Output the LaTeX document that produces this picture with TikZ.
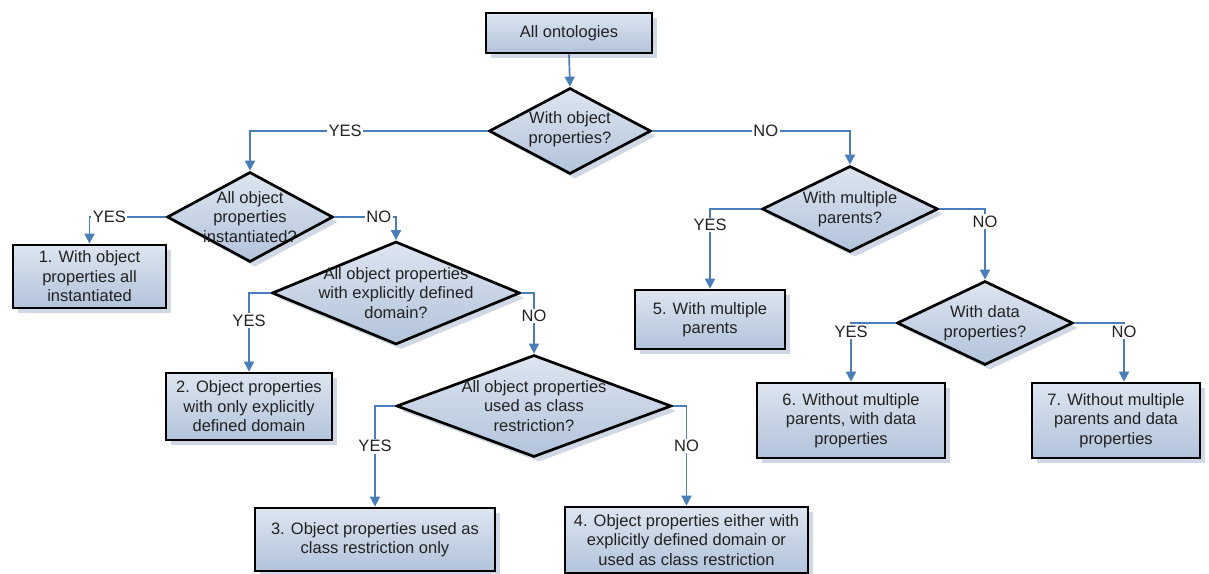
\documentclass[tikz,border=0pt]{standalone}
\usepackage{fontspec}
\setmainfont{Liberation Sans}
\usetikzlibrary{shapes.geometric,arrows.meta,shadows}
\definecolor{arrblue}{HTML}{4A7EBB}
\definecolor{ftop}{HTML}{DDE5F0}
\definecolor{fbot}{HTML}{B2C3DB}
\definecolor{shad}{HTML}{D0D8E5}
\definecolor{txtc}{HTML}{222222}
\begin{document}
\begin{tikzpicture}[x=1pt,y=-1pt,
  every node/.style={font=\fontsize{16.5}{19.5}\selectfont, text=txtc},
  shad/.style={drop shadow={shadow xshift=5pt, shadow yshift=-5pt, fill=shad, opacity=1}},
  box/.style={rectangle, draw=black, line width=2.7pt, top color=ftop, bottom color=fbot, align=center, inner sep=1pt, shad},
  dia/.style={diamond, draw=black, line width=2.7pt, top color=ftop, bottom color=fbot, inner sep=0pt, shad},
  dtext/.style={align=center, inner sep=0pt},
  arr/.style={draw=arrblue, line width=1.7pt, -{Triangle[width=10pt,length=10pt]}},
  lab/.style={fill=white, inner sep=1.5pt}
]
\useasboundingbox (0,0) rectangle (1209,573);

% boxes
\node[box, minimum width=166, minimum height=40] (top) at (569,33) {All ontologies};
\node[box, minimum width=153, minimum height=63] (b1) at (89.5,276.5) {1. With object\\properties all\\instantiated};
\node[box, minimum width=166, minimum height=67] (b2) at (249,406.5) {2. Object properties\\with only explicitly\\defined domain};
\node[box, minimum width=240, minimum height=63] (b3) at (375,539.5) {3. Object properties used as\\class restriction only};
\node[box, minimum width=243, minimum height=66] (b4) at (686.5,540) {4. Object properties either with\\explicitly defined domain or\\used as class restriction};
\node[box, minimum width=150, minimum height=59] (b5) at (710,319.5) {5. With multiple\\parents};
\node[box, minimum width=188, minimum height=75] (b6) at (851,420.5) {6. Without multiple\\parents, with data\\properties};
\node[box, minimum width=168, minimum height=75] (b7) at (1116,420.5) {7. Without multiple\\parents and data\\properties};

% diamonds
\node[dia, minimum width=162, minimum height=86] (d1) at (570,131) {};
\node[dtext] (d1t) at (570,129) {With object\\properties?};
\node[dia, minimum width=166, minimum height=90] (d2) at (250,217) {};
\node[dtext] (d2t) at (d2) {All object\\properties\\instantiated?};
\node[dia, minimum width=248, minimum height=103] (d3) at (396,293) {};
\node[dtext] (d3t) at (d3) {All object properties\\with explicitly defined\\domain?};
\node[dia, minimum width=275, minimum height=102] (d4) at (534,406) {};
\node[dtext] (d4t) at (d4) {All object properties\\used as class\\restriction?};
\node[dia, minimum width=176, minimum height=86] (d5) at (850,209) {};
\node[dtext] (d5t) at (d5) {With multiple\\parents?};
\node[dia, minimum width=176, minimum height=84] (d6) at (985,323) {};
\node[dtext] (d6t) at (d6) {With data\\properties?};

% connectors
\draw[arr] (top.south) -- (d1.north);
\draw[arr] (d1.west) -| (d2.north) node[lab,pos=.30]{YES};
\draw[arr] (d1.east) -| (d5.north) node[lab,pos=.287]{NO};
\draw[arr] (d2.west) -| (b1.north) node[lab,pos=.37]{YES};
\draw[arr] (d2.east) -| (d3.north) node[lab,pos=.36]{NO};
\draw[arr] (d3.west) -| (b2.north) node[lab,pos=.675]{YES};
\draw[arr] (d3.east) -| (d4.north) node[lab,pos=.69]{NO};
\draw[arr] (d4.west) -| (b3.north) node[lab,pos=.70]{YES};
\draw[arr] (d4.east) -| (b4.north) node[lab,pos=.70]{NO};
\draw[arr] (d5.west) -| (b5.north) node[lab,pos=.6]{YES};
\draw[arr] (d5.east) -| (d6.north) node[lab,pos=.59]{NO};
\draw[arr] (d6.west) -| (b6.north) node[lab,pos=.575]{YES};
\draw[arr] (d6.east) -| ([xshift=8pt]b7.north) node[lab,pos=.575]{NO};
\end{tikzpicture}
\end{document}
